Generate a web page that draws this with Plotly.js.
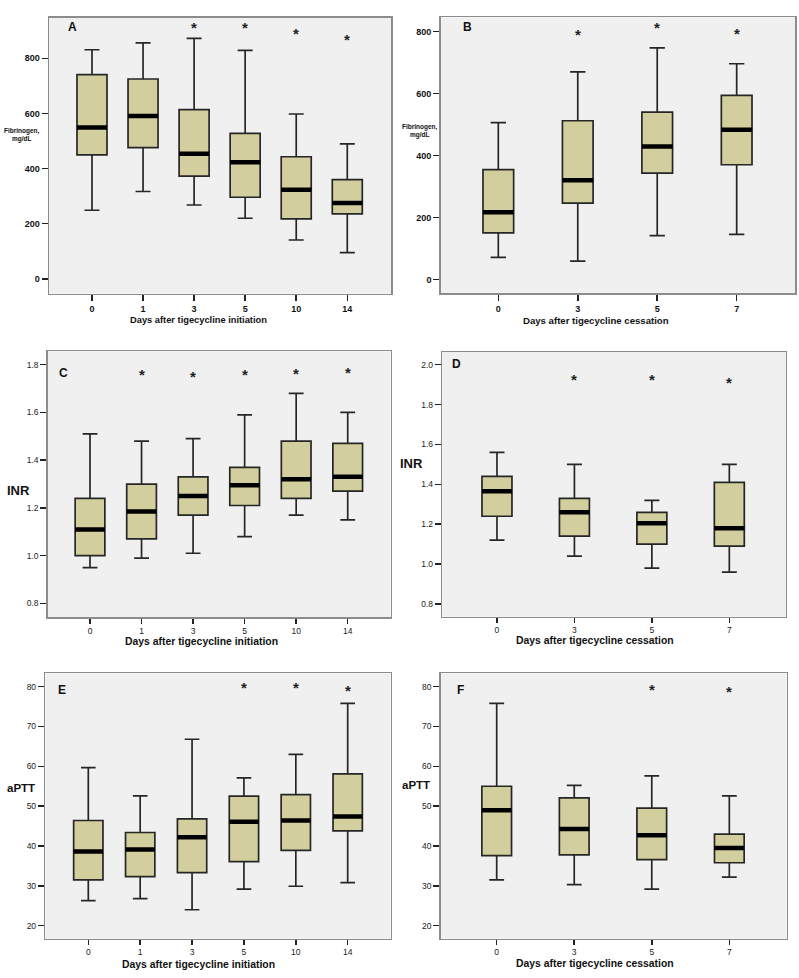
<!DOCTYPE html>
<html>
<head>
<meta charset="utf-8">
<script src="https://cdn.plot.ly/plotly-3.0.1.min.js"></script>
<style>html,body{margin:0;padding:0;background:#fff;}#chart{width:799px;height:978px;}</style>
</head>
<body>
<div id="chart"></div>
<script>
// ---------- Data ----------
const daysInit = ['0', '1', '3', '5', '10', '14'];
const daysCess = ['0', '3', '5', '7'];

// A: Fibrinogen, days after initiation
const fibInitLower  = [249, 317, 268, 220, 141, 95];
const fibInitQ1     = [450, 476, 373, 296, 218, 236];
const fibInitMedian = [549, 591, 454, 423, 323, 275];
const fibInitQ3     = [741, 725, 614, 528, 443, 360];
const fibInitUpper  = [831, 856, 872, 829, 598, 490];
const fibInitStarDays = ['3', '5', '10', '14'];
const fibInitStarY    = [921, 921, 900, 878];

// B: Fibrinogen, days after cessation
const fibCessLower  = [71, 59, 141, 145];
const fibCessQ1     = [150, 246, 343, 370];
const fibCessMedian = [217, 320, 429, 483];
const fibCessQ3     = [354, 512, 540, 594];
const fibCessUpper  = [506, 670, 747, 696];
const fibCessStarDays = ['3', '5', '7'];
const fibCessStarY    = [800, 823, 802];

// C: INR, days after initiation
const inrInitLower  = [0.95, 0.99, 1.01, 1.08, 1.17, 1.15];
const inrInitQ1     = [1.00, 1.07, 1.17, 1.21, 1.24, 1.27];
const inrInitMedian = [1.11, 1.185, 1.25, 1.295, 1.32, 1.33];
const inrInitQ3     = [1.24, 1.30, 1.33, 1.37, 1.48, 1.47];
const inrInitUpper  = [1.51, 1.48, 1.49, 1.59, 1.68, 1.60];
const inrInitStarDays = ['1', '3', '5', '10', '14'];
const inrInitStarY    = [1.771, 1.764, 1.772, 1.775, 1.78];

// D: INR, days after cessation
const inrCessLower  = [1.12, 1.04, 0.98, 0.96];
const inrCessQ1     = [1.24, 1.14, 1.10, 1.09];
const inrCessMedian = [1.365, 1.26, 1.205, 1.18];
const inrCessQ3     = [1.44, 1.33, 1.26, 1.41];
const inrCessUpper  = [1.56, 1.50, 1.32, 1.50];
const inrCessStarDays = ['3', '5', '7'];
const inrCessStarY    = [1.94, 1.94, 1.927];

// E: aPTT, days after initiation
const apttInitLower  = [26.3, 26.8, 24.0, 29.2, 29.9, 30.8];
const apttInitQ1     = [31.5, 32.3, 33.3, 36.1, 38.9, 43.8];
const apttInitMedian = [38.6, 39.1, 42.2, 46.1, 46.4, 47.4];
const apttInitQ3     = [46.4, 43.4, 46.8, 52.5, 52.9, 58.1];
const apttInitUpper  = [59.7, 52.6, 66.8, 57.1, 63.0, 75.8];
const apttInitStarDays = ['5', '10', '14'];
const apttInitStarY    = [80.5, 80.5, 79.8];

// F: aPTT, days after cessation
const apttCessLower  = [31.5, 30.3, 29.2, 32.2];
const apttCessQ1     = [37.6, 37.8, 36.6, 35.8];
const apttCessMedian = [49.0, 44.3, 42.7, 39.5];
const apttCessQ3     = [55.0, 52.1, 49.5, 43.0];
const apttCessUpper  = [75.8, 55.2, 57.6, 52.6];
const apttCessStarDays = ['5', '7'];
const apttCessStarY    = [80.0, 79.6];

const titleInit = 'Days after tigecycline initiation';
const titleCess = 'Days after tigecycline cessation';

// ---------- Styling / layout ----------
const W = 799, H = 978;
const BOX_FILL = '#D3CE9D';
const BOX_LINE = '#262626';
const PLOT_BG = '#F0F0F0';
const FRAME = '#8c8c8c';
const SANS = 'Liberation Sans, Arial, sans-serif';

const abTick = {family: SANS, size: 9, color: '#111', weight: 'bold'};
const cfTick = {family: SANS, size: 8.5, color: '#222'};

const panels = [
  {letter: 'A', cats: daysInit, lo: fibInitLower, q1: fibInitQ1, med: fibInitMedian, q3: fibInitQ3, hi: fibInitUpper,
   sx: fibInitStarDays, sy: fibInitStarY,
   px: [49, 391], py: [17.5, 293.5], xr: [-0.842, 5.856], yr: [-53, 948], dtick: 200, fmt: '',
   bw: 0.588, medSize: 21.5, tickFont: abTick, xtl: 6,
   xt: titleInit, xtPos: [198.5, 320.5], xtFont: {family: SANS, size: 9.3, color: '#111', weight: 'bold'},
   yt: 'Fibrinogen,<br>mg/dL', ytPos: [22, 135], ytFont: {family: SANS, size: 6.5, color: '#111', weight: 'bold'},
   letPos: [72.7, 27.3]},
  {letter: 'B', cats: daysCess, lo: fibCessLower, q1: fibCessQ1, med: fibCessMedian, q3: fibCessQ3, hi: fibCessUpper,
   sx: fibCessStarDays, sy: fibCessStarY,
   px: [440.7, 795], py: [17.3, 293.3], xr: [-0.725, 3.734], yr: [-45, 846], dtick: 200, fmt: '',
   bw: 0.386, medSize: 22, tickFont: abTick, xtl: 6,
   xt: titleCess, xtPos: [596, 320.5], xtFont: {family: SANS, size: 9.6, color: '#111', weight: 'bold'},
   yt: 'Fibrinogen,<br>mg/dL', ytPos: [420, 131], ytFont: {family: SANS, size: 6.5, color: '#111', weight: 'bold'},
   letPos: [467.7, 26.7]},
  {letter: 'C', cats: daysInit, lo: inrInitLower, q1: inrInitQ1, med: inrInitMedian, q3: inrInitQ3, hi: inrInitUpper,
   sx: inrInitStarDays, sy: inrInitStarY,
   px: [47.7, 390.7], py: [351.3, 617], xr: [-0.821, 5.834], yr: [0.743, 1.856], dtick: 0.2, fmt: '.1f',
   bw: 0.576, medSize: 21.2, tickFont: cfTick, xtl: 5,
   xt: titleInit, xtPos: [201, 641], xtFont: {family: SANS, size: 10.4, color: '#111', weight: 'bold'},
   yt: 'INR', ytPos: [18.5, 490], ytFont: {family: SANS, size: 13, color: '#111', weight: 'bold'},
   letPos: [63.3, 373.3]},
  {letter: 'D', cats: daysCess, lo: inrCessLower, q1: inrCessQ1, med: inrCessMedian, q3: inrCessQ3, hi: inrCessUpper,
   sx: inrCessStarDays, sy: inrCessStarY,
   px: [442.3, 785.7], py: [352, 616.7], xr: [-0.706, 3.728], yr: [0.7365, 2.0635], dtick: 0.2, fmt: '.1f',
   bw: 0.387, medSize: 21.5, tickFont: cfTick, xtl: 5,
   xt: titleCess, xtPos: [595, 640.5], xtFont: {family: SANS, size: 10.4, color: '#111', weight: 'bold'},
   yt: 'INR', ytPos: [411, 463.3], ytFont: {family: SANS, size: 13, color: '#111', weight: 'bold'},
   letPos: [456.7, 364.3]},
  {letter: 'E', cats: daysInit, lo: apttInitLower, q1: apttInitQ1, med: apttInitMedian, q3: apttInitQ3, hi: apttInitUpper,
   sx: apttInitStarDays, sy: apttInitStarY,
   px: [45.3, 390.7], py: [673.3, 938.7], xr: [-0.829, 5.829], yr: [16.74, 83.35], dtick: 10, fmt: '',
   bw: 0.565, medSize: 21, tickFont: cfTick, xtl: 5,
   xt: titleInit, xtPos: [198.7, 964.5], xtFont: {family: SANS, size: 10.4, color: '#111', weight: 'bold'},
   yt: 'aPTT', ytPos: [20.7, 787.7], ytFont: {family: SANS, size: 11.5, color: '#111', weight: 'bold'},
   letPos: [61.7, 690]},
  {letter: 'F', cats: daysCess, lo: apttCessLower, q1: apttCessQ1, med: apttCessMedian, q3: apttCessQ3, hi: apttCessUpper,
   sx: apttCessStarDays, sy: apttCessStarY,
   px: [440.7, 786.7], py: [673.3, 938.7], xr: [-0.722, 3.74], yr: [16.74, 83.35], dtick: 10, fmt: '',
   bw: 0.383, medSize: 21.2, tickFont: cfTick, xtl: 5,
   xt: titleCess, xtPos: [595, 963], xtFont: {family: SANS, size: 10.4, color: '#111', weight: 'bold'},
   yt: 'aPTT', ytPos: [416, 785], ytFont: {family: SANS, size: 11.5, color: '#111', weight: 'bold'},
   letPos: [460, 690]}
];

const data = [];
const layout = {
  width: W, height: H,
  margin: {l: 0, r: 0, t: 0, b: 0},
  paper_bgcolor: '#ffffff',
  plot_bgcolor: PLOT_BG,
  showlegend: false,
  annotations: []
};

panels.forEach((p, i) => {
  const n = i === 0 ? '' : String(i + 1);
  const xa = 'x' + n, ya = 'y' + n;
  data.push({
    type: 'box', xaxis: xa, yaxis: ya,
    x: p.cats, q1: p.q1, median: p.med, q3: p.q3, lowerfence: p.lo, upperfence: p.hi,
    boxpoints: false, width: p.bw, whiskerwidth: 0.5,
    fillcolor: BOX_FILL, line: {color: BOX_LINE, width: 1.7},
    hoverinfo: 'skip'
  });
  // thick median bars
  data.push({
    type: 'scatter', mode: 'markers', xaxis: xa, yaxis: ya,
    x: p.cats, y: p.med,
    marker: {symbol: 'line-ew', size: p.medSize, color: '#000', line: {color: '#000', width: 4.5}},
    hoverinfo: 'skip'
  });
  // significance asterisks (category axis: annotation x is the category index)
  p.sx.forEach((d, k) => {
    layout.annotations.push({xref: xa, yref: ya, x: p.cats.indexOf(d), y: p.sy[k], text: '*', showarrow: false,
      xanchor: 'center', yanchor: 'middle', yshift: -3,
      font: {family: SANS, size: 15, color: '#222', weight: 'bold'}});
  });
  const axBase = {showline: true, mirror: true, linecolor: FRAME, linewidth: 1.5,
                  showgrid: false, zeroline: false, ticks: 'outside',
                  tickwidth: 1.5, tickcolor: '#222', tickfont: p.tickFont, fixedrange: true};
  layout['xaxis' + n] = Object.assign({}, axBase, {
    domain: [p.px[0] / W, p.px[1] / W], anchor: ya, ticklen: p.xtl,
    type: 'category', categoryorder: 'array', categoryarray: p.cats,
    range: p.xr
  });
  layout['yaxis' + n] = Object.assign({}, axBase, {
    domain: [1 - p.py[1] / H, 1 - p.py[0] / H], anchor: xa,
    range: p.yr, dtick: p.dtick, tick0: 0, tickformat: p.fmt, ticklen: 6
  });
  // panel letter
  layout.annotations.push({xref: 'paper', yref: 'paper', x: p.letPos[0] / W, y: 1 - p.letPos[1] / H,
    text: p.letter, showarrow: false, xanchor: 'center', yanchor: 'middle',
    font: {family: SANS, size: 12, color: '#111', weight: 'bold'}});
  // x title
  layout.annotations.push({xref: 'paper', yref: 'paper', x: p.xtPos[0] / W, y: 1 - p.xtPos[1] / H,
    text: p.xt, showarrow: false, xanchor: 'center', yanchor: 'middle', font: p.xtFont});
  // y title
  layout.annotations.push({xref: 'paper', yref: 'paper', x: p.ytPos[0] / W, y: 1 - p.ytPos[1] / H,
    text: p.yt, showarrow: false, xanchor: 'center', yanchor: 'middle', font: p.ytFont});
});

Plotly.newPlot('chart', data, layout, {staticPlot: true, displayModeBar: false});
</script>
</body>
</html>
